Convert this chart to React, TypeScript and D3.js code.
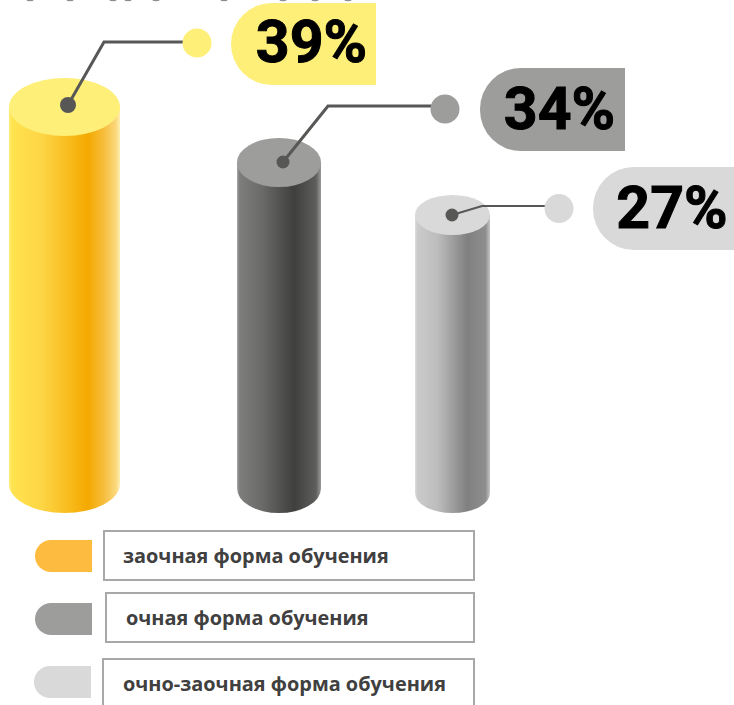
import React from "react";
import * as d3 from "d3";

const categories = ["заочная форма обучения", "очная форма обучения", "очно-заочная форма обучения"];
const values = [39, 34, 27];
const capFill = ["#FEEF78", "#9D9D9C", "#D9D9D9"];
const swatchFill = ["#FDBB40", "#9D9D9C", "#D9D9D9"];
const pillFill = ["#FEEF78", "#9D9D9C", "#D9D9D9"];
const bodyStops = [
  [["0", "#FFEC78"], ["0.03", "#FFE34E"], ["0.3", "#FDD545"], ["0.71", "#F4A900"], ["0.85", "#F6BC3A"], ["0.96", "#FBD77A"], ["1", "#FEEFB0"]],
  [["0", "#A8A8A8"], ["0.03", "#7E7E7D"], ["0.3", "#6A6A69"], ["0.68", "#3F3F3E"], ["0.94", "#5E5E5D"], ["1", "#9A9A9A"]],
  [["0", "#DEDEDE"], ["0.03", "#CBCBCB"], ["0.3", "#BDBDBD"], ["0.7", "#808080"], ["0.94", "#8E8E8E"], ["1", "#C4C4C4"]],
];

const topY = d3.scaleLinear().domain([27, 34, 39]).range([215, 162.5, 107]);
const centerX = d3.scaleOrdinal<number, number>().domain(values).range([64.5, 279, 452.5]);
const radiusX = d3.scaleOrdinal<number, number>().domain(values).range([55.5, 42, 37.5]);
const radiusY = d3.scaleOrdinal<number, number>().domain(values).range([29, 24.5, 20]);
const floorY = 513;

const leaders = [
  [[68, 105], [104, 42], [183, 42]],
  [[283, 162], [328, 106], [432, 106]],
  [[452, 215], [482, 206], [545, 206]],
] as [number, number][][];
const leaderW = [3, 3, 2];
const dots = [[197, 43], [445, 109], [559, 208.5]];
const pills = [
  { x: 231, y: 3, w: 145, h: 82, rr: 0, tx: 311.5, by: 61.5 },
  { x: 480, y: 68, w: 145, h: 83, rr: 0, tx: 559.5, by: 129 },
  { x: 593, y: 167, w: 190, h: 83, rr: 41, tx: 672, by: 228 },
];
const boxes = [
  { x: 104, y: 531, w: 370, h: 49, tx: 123, sy: 540, sx: 35 },
  { x: 106, y: 593, w: 368, h: 49, tx: 126, sy: 603, sx: 35 },
  { x: 103, y: 659, w: 371, h: 60, tx: 123, sy: 666, sx: 34 },
];
const sans = "'Open Sans', sans-serif";
const topTitleDots = [30, 70, 113, 128, 156, 224, 283, 315, 348];

function leftPill(x: number, y: number, w: number, h: number, r: number, rr = 0) {
  const p = d3.path();
  p.moveTo(x + r, y);
  p.lineTo(x + w - rr, y);
  if (rr) p.arcTo(x + w, y, x + w, y + rr, rr);
  p.lineTo(x + w, y + h - rr);
  if (rr) p.arcTo(x + w, y + h, x + w - rr, y + h, rr);
  p.lineTo(x + r, y + h);
  p.arcTo(x, y + h, x, y + h - r, r);
  p.lineTo(x, y + r);
  p.arcTo(x, y, x + r, y, r);
  p.closePath();
  return p.toString();
}

export default function App() {
  const line = d3.line();
  return (
    <svg width={734} height={705} style={{ position: "absolute", left: 0, top: 0, background: "#fff" }}>
      <defs>
        {bodyStops.map((stops, i) => (
          <linearGradient key={i} id={`body${i}`} x1="0" x2="1" y1="0" y2="0">
            {stops.map(([o, c]) => <stop key={o} offset={o} stopColor={c} />)}
          </linearGradient>
        ))}
      </defs>
      {topTitleDots.map((x) => <ellipse key={x} cx={x} cy={0} rx={3.5} ry={1.2} fill="#8f8f8f" />)}
      {values.map((v, i) => {
        const cx = centerX(v), rx = radiusX(v), ry = radiusY(v), t = topY(v), b = floorY - ry;
        const body = `M${cx - rx},${t}L${cx - rx},${b}A${rx},${ry} 0 0 0 ${cx + rx},${b}L${cx + rx},${t}Z`;
        return (
          <g key={v}>
            <path d={body} fill={`url(#body${i})`} />
            <ellipse cx={cx} cy={t} rx={rx} ry={ry} fill={capFill[i]} />
            <path d={line(leaders[i])!} fill="none" stroke="#575756" strokeWidth={leaderW[i]} />
            <circle cx={leaders[i][0][0]} cy={leaders[i][0][1]} r={i === 0 ? 8 : 6.5} fill="#575756" />
            <circle cx={dots[i][0]} cy={dots[i][1]} r={14.5} fill={capFill[i]} />
            <path d={leftPill(pills[i].x, pills[i].y, pills[i].w, pills[i].h, 41, pills[i].rr)} fill={pillFill[i]} />
            <text x={pills[i].tx} y={pills[i].by} textAnchor="middle" fontFamily="Roboto, sans-serif" fontWeight={700} fontSize={59} fill="#000" stroke="#000" strokeWidth={1}>{v}%</text>
          </g>
        );
      })}
      {categories.map((c, i) => (
        <g key={c}>
          <path d={leftPill(boxes[i].sx, boxes[i].sy, 57, 32, 16)} fill={swatchFill[i]} />
          <rect x={boxes[i].x} y={boxes[i].y} width={boxes[i].w} height={boxes[i].h} fill="#fff" stroke="#A8A8A8" strokeWidth={2} />
          <text x={boxes[i].tx} y={boxes[i].y + 32} fontFamily={sans} fontWeight={700} fontSize={19.9} fill="#404040">{c}</text>
        </g>
      ))}
    </svg>
  );
}
